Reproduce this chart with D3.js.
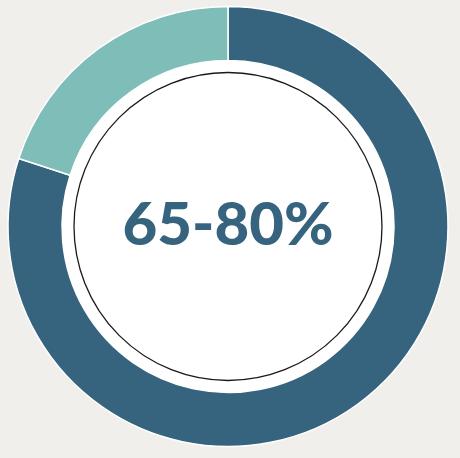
<!DOCTYPE html>
<html><head><meta charset="utf-8">
<script src="https://cdn.jsdelivr.net/npm/d3@7"></script>
<style>html,body{margin:0;padding:0;background:#f0efec;}svg{display:block;}</style>
</head><body>
<script>
const categories = ["Share", "Remainder"];
const values = [80, 20];
const colors = ["#36637d", "#7fbdb9"];
const label = "65-80%";

const W = 460, H = 458, cx = 228, cy = 226.5;
const svg = d3.select("body").append("svg").attr("width", W).attr("height", H);
svg.append("rect").attr("width", W).attr("height", H).attr("fill", "#f0efec");
const g = svg.append("g").attr("transform", `translate(${cx},${cy})`);

const pie = d3.pie().sort(null).value(d => d.v);
const arc = d3.arc().innerRadius(166).outerRadius(220);
const data = categories.map((c, i) => ({c, v: values[i], col: colors[i]}));

g.append("circle").attr("r", 166).attr("fill", "#ffffff");
g.selectAll("path.slice").data(pie(data)).join("path")
  .attr("class", "slice")
  .attr("d", arc)
  .attr("fill", d => d.data.col)
  .attr("stroke", "#ffffff")
  .attr("stroke-width", 1.5);

g.append("circle").attr("r", 154).attr("fill", "none").attr("stroke", "#1a1a1a").attr("stroke-width", 1.3);

const t = g.append("text")
  .attr("x", 0).attr("y", 18.5)
  .attr("text-anchor", "middle")
  .attr("font-family", "Lato, 'Open Sans', sans-serif")
  .attr("font-weight", 900)
  .attr("font-size", 59)
  .attr("fill", "#36637d")
  .text(label);
t.attr("textLength", 211).attr("lengthAdjust", "spacingAndGlyphs");
</script>
</body></html>
